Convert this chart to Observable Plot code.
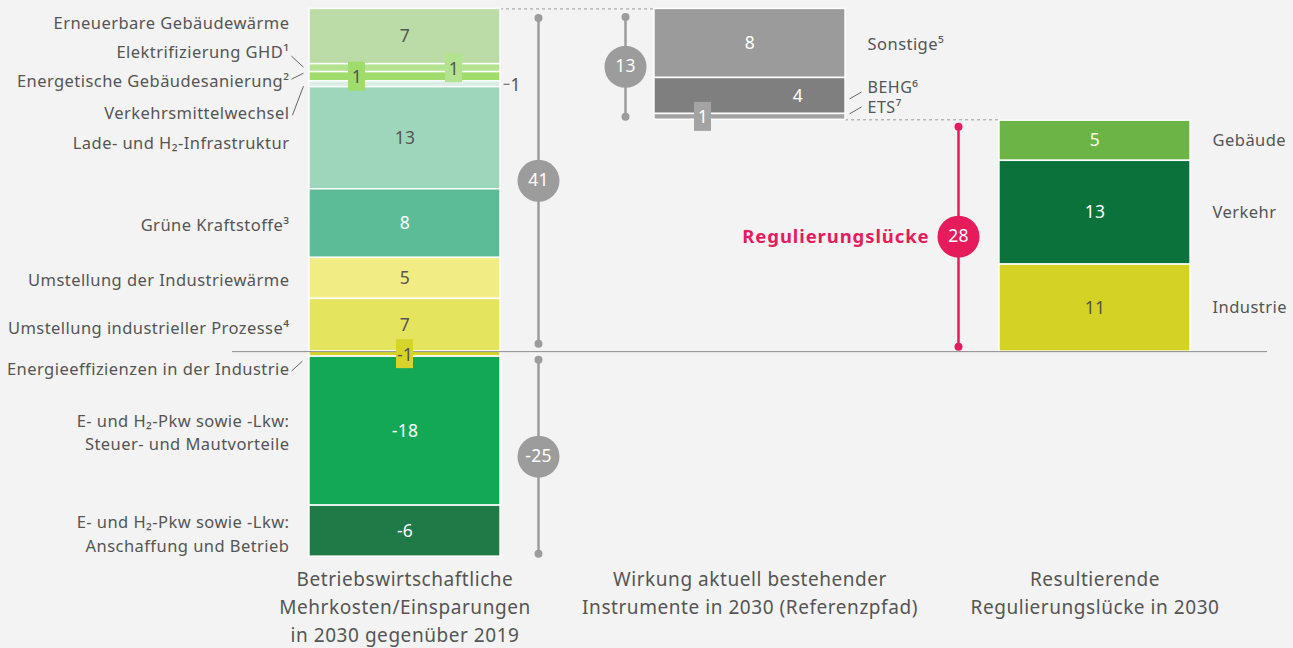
<!DOCTYPE html>
<html><head><meta charset="utf-8">
<script src="https://cdn.jsdelivr.net/npm/d3@7"></script>
<script src="https://cdn.jsdelivr.net/npm/@observablehq/plot@0.6"></script>
<style>
html,body{margin:0;padding:0;background:#f2f3f2;}
#chart svg{display:block;}
#chart g[font-size="16.5"] text{letter-spacing:0.45px;}
#chart g[font-size="16"] text{letter-spacing:0.5px;}
#chart g[font-size="19"] text{letter-spacing:0.55px;}
#chart g[font-size="18.5"] text{letter-spacing:0.9px;}
#chart g[font-size="17.5"] text{letter-spacing:0.3px;}
</style></head><body><div id="chart"></div>
<script>
// ---------- DATA ----------
// Column 1: Betriebswirtschaftliche Mehrkosten/Einsparungen (Mrd. €)
const c1Labels = ["Erneuerbare Gebäudewärme","Elektrifizierung GHD¹","Energetische Gebäudesanierung²","Verkehrsmittelwechsel","Lade- und H₂-Infrastruktur","Grüne Kraftstoffe³","Umstellung der Industriewärme","Umstellung industrieller Prozesse⁴","Energieeffizienzen in der Industrie","E- und H₂-Pkw sowie -Lkw:\nSteuer- und Mautvorteile","E- und H₂-Pkw sowie -Lkw:\nAnschaffung und Betrieb"];
const c1Values = [6.6, 0.95, 1.1, 0.7, 12.2, 8.2, 4.9, 6.3, -0.6, -17.8, -6.1];
const c1Shown  = ["7","1","1","1","13","8","5","7","-1","-18","-6"];
const c1Colors = ["#bbdca7","#b3e38e","#a0dc6c","#dcede5","#9dd6bb","#5bbc97","#f1ec83","#e5e45f","#d6d42a","#13a855","#1f7a48"];
const c1Totals = ["41","-25"];
// Column 2: Wirkung aktuell bestehender Instrumente
const c2Labels = ["Sonstige⁵","BEHG⁶","ETS⁷"];
const c2Values = [8.25, 4.3, 0.7];
const c2Shown  = ["8","4","1"];
const c2Colors = ["#9b9b9b","#7f7f7f","#a3a3a3"];
const c2Total = "13";
// Column 3: Resultierende Regulierungslücke
const c3Labels = ["Gebäude","Verkehr","Industrie"];
const c3Values = [4.8, 12.4, 10.4];
const c3Shown  = ["5","13","11"];
const c3Colors = ["#6db446","#0b723c","#d3d225"];
const c3Total = "28";
const gapLabel = "Regulierungslücke";
const colTitles = ["Betriebswirtschaftliche\nMehrkosten/Einsparungen\nin 2030 gegenüber 2019","Wirkung aktuell bestehender\nInstrumente in 2030 (Referenzpfad)","Resultierende\nRegulierungslücke in 2030"];

// ---------- LAYOUT ----------
const W = 1293, H = 648;
const PXX = 345;              // px per column unit
const X0 = 404.5;             // pixel of column 0 centre
const half = 0.277;
const mTop = 8, mBottom = 91;
const yDomain = [-24.6, 41];
const PXY = (H - mTop - mBottom) / (yDomain[1] - yDomain[0]);
const px = v => v / PXX, py = v => -v / PXY;
const DARK = "#555555";
const FONT = "'Noto Sans', sans-serif";

// stacks
const bars = [];
let pos = d3.sum(c1Values.filter(v => v > 0)), neg = 0;
const topVal = pos;
c1Values.forEach((v, i) => {
  let y1, y2;
  if (v >= 0) { y1 = pos; y2 = pos - v; pos = y2; } else { y1 = neg; y2 = neg + v; neg = y2; }
  bars.push({col: 0, i, label: c1Labels[i], shown: c1Shown[i], fill: c1Colors[i], y1, y2, c: (y1 + y2) / 2});
});
const negTotal = neg;
let p2 = topVal;
c2Values.forEach((v, i) => { bars.push({col: 1, i, label: c2Labels[i], shown: c2Shown[i], fill: c2Colors[i], y1: p2, y2: p2 - v, c: p2 - v / 2}); p2 -= v; });
const c2Bottom = p2;
let p3 = d3.sum(c3Values);
const c3Top = p3;
c3Values.forEach((v, i) => { bars.push({col: 2, i, label: c3Labels[i], shown: c3Shown[i], fill: c3Colors[i], y1: p3, y2: p3 - v, c: p3 - v / 2}); p3 -= v; });

const B = (col, i) => bars.find(b => b.col === col && b.i === i);
const key = b => `${b.col}-${b.i}`;

// value labels
const whiteText = new Set(["0-5","0-9","0-10","1-0","1-1","1-2","2-0","2-1"]);
const boxed = {"0-1": 49, "0-2": -48, "0-8": 0, "1-2": -47};
const shifted = {"1-1": 48};
const plain = bars.filter(b => !(key(b) in boxed) && !(key(b) in shifted) && !(b.col === 0 && b.i === 3));
const moved = bars.filter(b => key(b) in shifted);
const boxes = bars.filter(b => key(b) in boxed).map(b => ({...b, dx: boxed[key(b)]}));

// left label offsets (px) relative to bar centre
const c1LabelDy = [-15, -17.5, 3, 27.5, 3, 0, 0, 1, 13.5, 0, 1.5];
const leftLabels = bars.filter(b => b.col === 0).map(b => ({...b, ly: b.c + py(c1LabelDy[b.i])}));
const rightDy = {"1-0": 1, "1-1": -8, "1-2": -9.5, "2-0": 0, "2-1": 0, "2-2": 0};
const rightLabels = bars.filter(b => b.col > 0).map(b => ({...b, ly: b.c + py(rightDy[key(b)])}));
const smallRight = new Set(["1-1", "1-2"]);

// leader lines (px offsets): [x1,y1,x2,y2] relative to (bar edge, bar centre)
const leaders = [
  {b: B(0,1), side: -1, o: [-18, -12, -6, -1]},
  {b: B(0,2), side: -1, o: [-18, 2.5, -6, -3.5]},
  {b: B(0,3), side: -1, o: [-17, 31, -6, 2]},
  {b: B(0,8), side: -1, o: [-18, 17, -7, 7]},
  {b: B(1,1), side: 1, o: [4, 3, 16, -4]},
  {b: B(1,2), side: 1, o: [4, -3, 16, -10]}
].map(({b, side, o}) => {
  const edge = b.col + side * half;
  return {x1: edge + px(o[0]), y1: b.c + py(o[1]), x2: edge + px(o[2]), y2: b.c + py(o[3])};
});

// markers
const markers = [
  {x: 0 + px(133.5), top: topVal, bot: 0, it: 9, ib: 8, fill: "#9c9c9c", label: c1Totals[0]},
  {x: 0 + px(133.5), top: 0, bot: negTotal, it: 8, ib: 3, fill: "#9c9c9c", label: c1Totals[1]},
  {x: 1 - px(124.5), top: topVal, bot: c2Bottom, it: 8, ib: 3, fill: "#9c9c9c", label: c2Total},
  {x: 2 - px(136.5), top: c3Top, bot: 0, it: 6, ib: 5, fill: "#e61b5b", label: c3Total}
].map(m => ({...m, y1: m.top + py(m.it), y2: m.bot - py(m.ib), mid: (m.top + py(m.it) + m.bot - py(m.ib)) / 2}));
const ends = markers.flatMap(m => [{x: m.x, y: m.y1, fill: m.fill}, {x: m.x, y: m.y2, fill: m.fill}]);

const titles = colTitles.map((t, i) => ({col: i, text: t}));

const plot = Plot.plot({
  width: W, height: H,
  marginLeft: 0, marginRight: 0, marginTop: mTop, marginBottom: mBottom,
  x: {domain: [-X0 / PXX, (W - X0) / PXX], axis: null},
  y: {domain: yDomain, axis: null},
  color: {type: "identity"},
  style: {background: "#f2f3f2", fontFamily: FONT, color: DARK, overflow: "visible"},
  marks: [
    Plot.ruleY([{y: topVal, x1: half, x2: 1 - half}, {y: c2Bottom, x1: 1 + half, x2: 2 - half}],
      {y: "y", x1: "x1", x2: "x2", stroke: "#9a9a9a", strokeWidth: 1, strokeDasharray: "3,3"}),
    Plot.rect(bars, {x1: d => d.col - half, x2: d => d.col + half, y1: "y1", y2: "y2", fill: "fill", stroke: "white", strokeWidth: 1.5}),
    Plot.ruleY([{y: 0, x1: -0.5, x2: 2.5}], {y: "y", x1: "x1", x2: "x2", stroke: "#8c8c8c", strokeWidth: 1}),
    Plot.text(plain, {x: "col", y: "c", text: "shown", fontSize: 17.5,
      fill: d => whiteText.has(key(d)) ? "white" : DARK}),
    Plot.text(moved, {x: "col", y: "c", text: "shown", fontSize: 17.5, dx: 48, fill: "white"}),
    ...boxes.map(b => Plot.rect([b], {x1: "col", x2: "col", y1: "c", y2: "c", fill: "fill", dx: b.dx,
      insetLeft: -8.5, insetRight: -8.5, insetTop: -14.5, insetBottom: -14.5})),
    ...boxes.map(b => Plot.text([b], {x: "col", y: "c", text: "shown", fontSize: 17.5, dx: b.dx, dy: 1,
      fill: b.col === 1 ? "white" : DARK})),
    Plot.link([B(0,3)], {x1: d => d.col + half + px(3), x2: d => d.col + half + px(9), y1: "c", y2: "c", stroke: DARK, strokeWidth: 1}),
    Plot.text([B(0,3)], {x: d => d.col + half + px(10), y: "c", text: "shown", textAnchor: "start", fontSize: 17.5, fill: DARK, dy: 1}),
    Plot.text(leftLabels, {x: -half + px(-20), y: "ly", text: "label", textAnchor: "end",
      fontSize: 16.5, lineHeight: 1.42, fill: DARK}),
    Plot.text(rightLabels.filter(b => !smallRight.has(key(b))), {x: d => d.col + half + px(22), y: "ly", text: "label", textAnchor: "start",
      fontSize: 16.5, fill: DARK}),
    Plot.text(rightLabels.filter(b => smallRight.has(key(b))), {x: d => d.col + half + px(22), y: "ly", text: "label", textAnchor: "start",
      fontSize: 16, lineHeight: 1, fill: DARK}),
    Plot.link(leaders, {x1: "x1", y1: "y1", x2: "x2", y2: "y2", stroke: DARK, strokeWidth: 0.9}),
    Plot.ruleX(markers, {x: "x", y1: "y1", y2: "y2", stroke: "fill", strokeWidth: 2.5}),
    Plot.dot(ends, {x: "x", y: "y", r: 4, fill: "fill"}),
    Plot.dot(markers, {x: "x", y: "mid", r: 21, fill: "fill"}),
    Plot.text(markers, {x: "x", y: "mid", text: "label", fill: "white", fontSize: 17.5}),
    Plot.text([markers[3]], {x: "x", y: "mid", text: () => gapLabel, textAnchor: "end", dx: -29,
      fill: "#e61b5b", fontSize: 18.5, fontWeight: "bold"}),
    Plot.text(titles, {x: "col", text: "text", frameAnchor: "bottom", lineAnchor: "top", dy: 9,
      fontSize: 19, lineHeight: 1.47, fill: DARK})
  ]
});
document.getElementById("chart").append(plot);
</script>
</body></html>
